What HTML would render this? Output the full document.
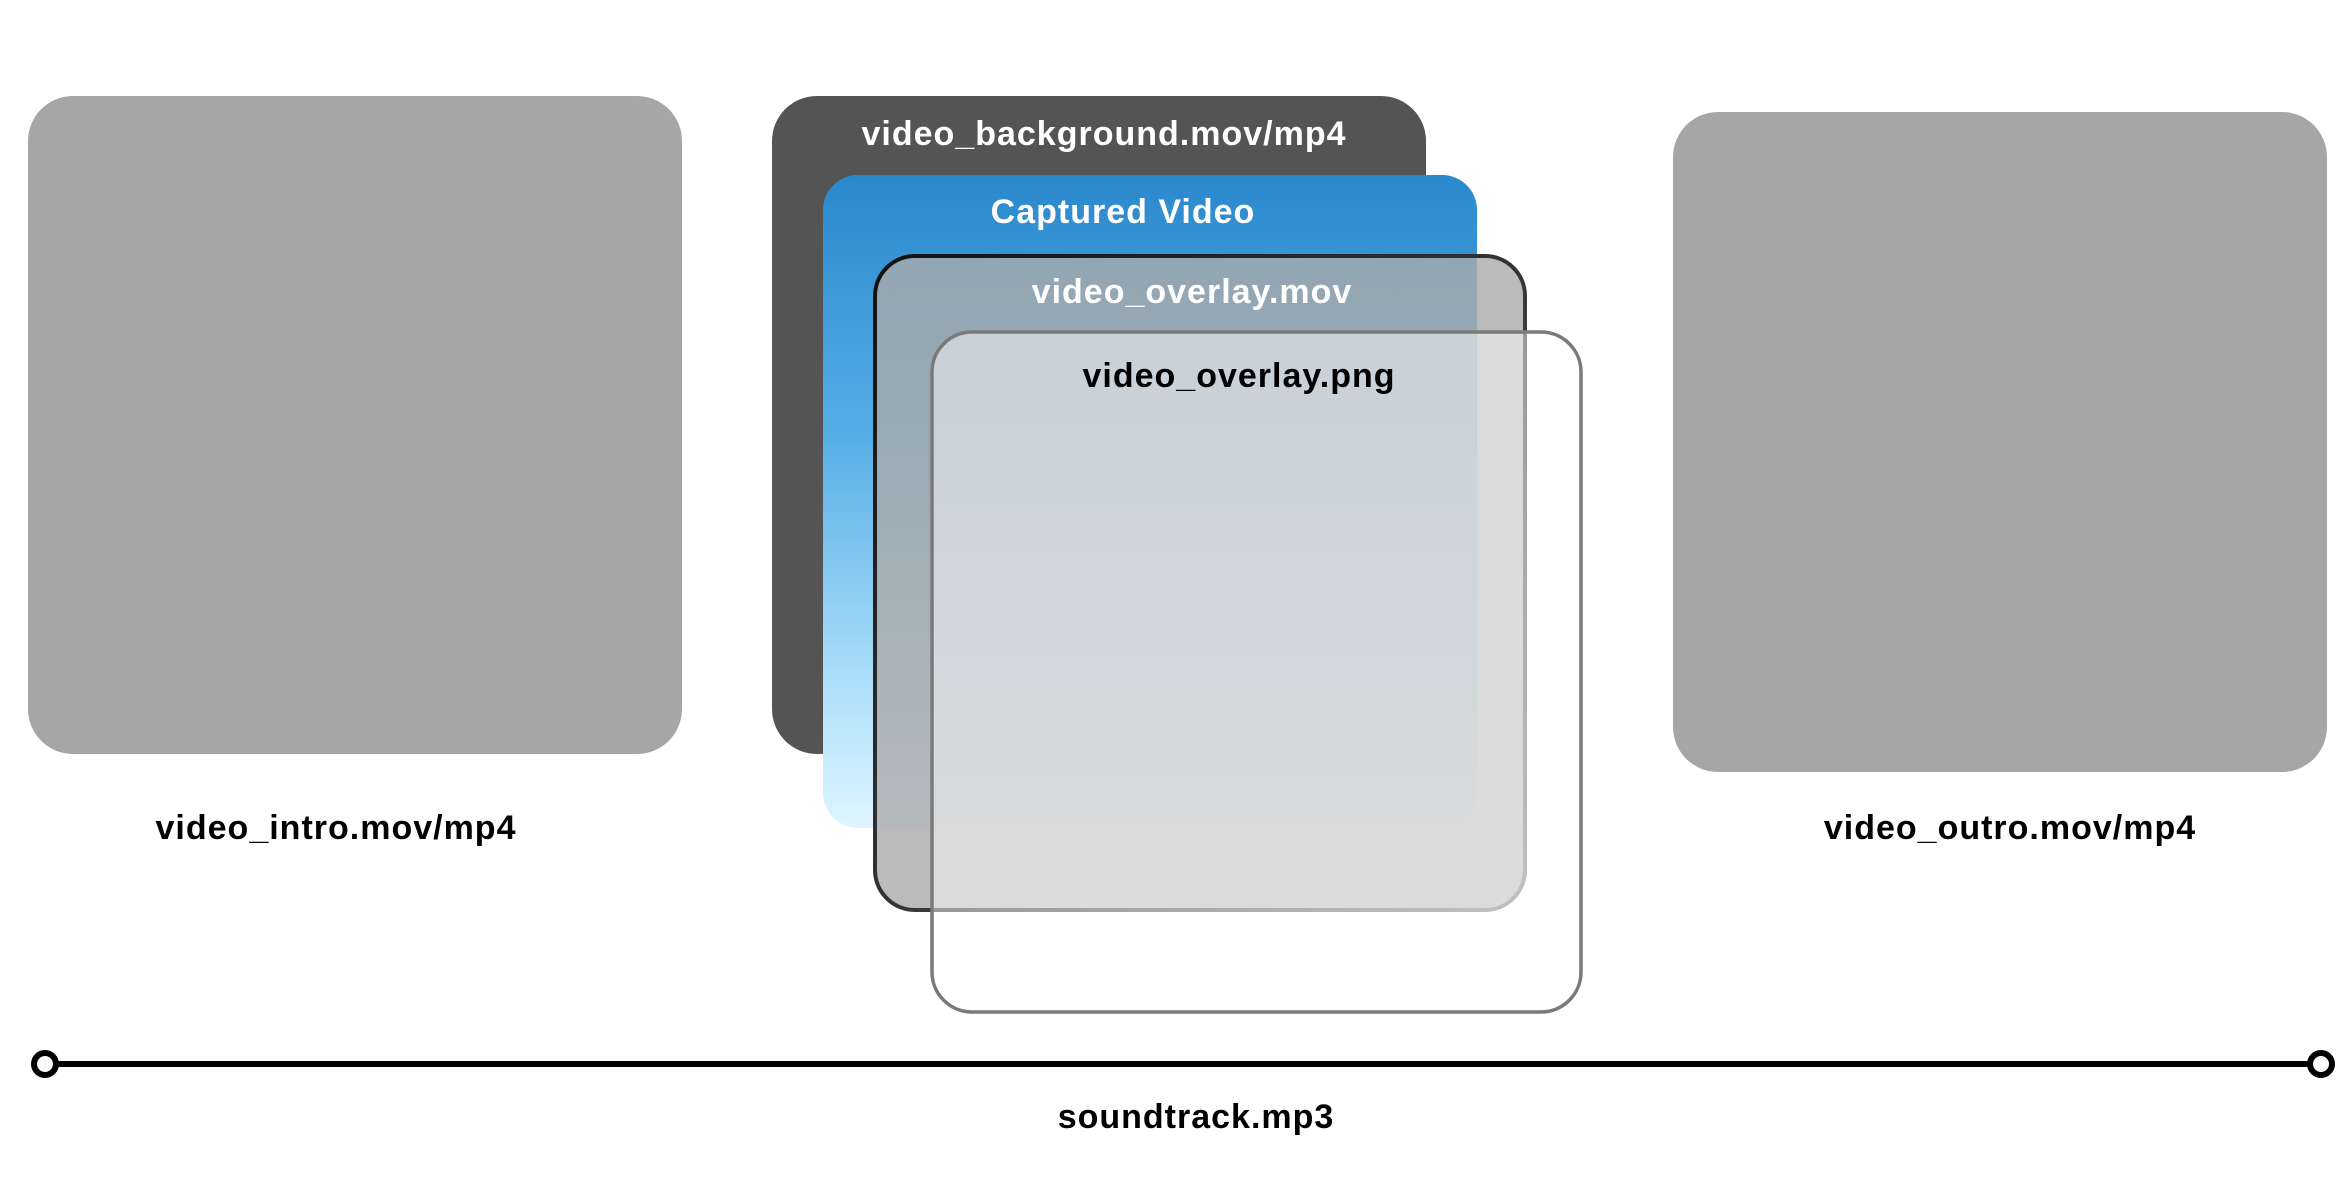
<!DOCTYPE html>
<html><head><meta charset="utf-8"><style>
html,body{margin:0;padding:0;background:#fff;}
svg{display:block;}
text{font-family:"Liberation Sans",sans-serif;font-weight:bold;}
</style></head><body>
<svg width="2350" height="1180" viewBox="0 0 2350 1180" xmlns="http://www.w3.org/2000/svg">
<defs>
<linearGradient id="blue" x1="0" y1="0" x2="0" y2="1">
<stop offset="0" stop-color="#2a88cc"/>
<stop offset="0.4" stop-color="#56aee6"/>
<stop offset="0.75" stop-color="#a6dbf8"/>
<stop offset="1" stop-color="#dff5ff"/>
</linearGradient>
<linearGradient id="ovb" x1="0" y1="0" x2="1" y2="1">
<stop offset="0" stop-color="#111"/>
<stop offset="0.5" stop-color="#333"/>
<stop offset="1" stop-color="#888"/>
</linearGradient>
</defs>
<rect x="28" y="96" width="654" height="658" rx="45" fill="#a6a6a6"/>
<rect x="1673" y="112" width="654" height="660" rx="45" fill="#a6a6a6"/>
<text x="336" y="839" font-size="34" letter-spacing="1" text-anchor="middle" fill="#000">video_intro.mov/mp4</text>
<text x="2010" y="839" font-size="34" letter-spacing="1" text-anchor="middle" fill="#000">video_outro.mov/mp4</text>

<rect x="772" y="96" width="654" height="658" rx="45" fill="#545454"/>
<text x="1104" y="145" font-size="34" letter-spacing="1" text-anchor="middle" fill="#fff">video_background.mov/mp4</text>
<rect x="823" y="175" width="654" height="653" rx="35" fill="url(#blue)"/>
<text x="1123" y="223" font-size="34" letter-spacing="1" text-anchor="middle" fill="#fff">Captured Video</text>
<rect x="875" y="256" width="650" height="654" rx="40" fill="rgba(170,170,170,0.8)" stroke="url(#ovb)" stroke-width="4"/>
<text x="1192" y="303" font-size="34" letter-spacing="1" text-anchor="middle" fill="#fff">video_overlay.mov</text>
<rect x="932" y="332" width="649" height="680" rx="40" fill="rgba(255,255,255,0.48)" stroke="#7a7a7a" stroke-width="3.5"/>
<text x="1239" y="387" font-size="34" letter-spacing="1" text-anchor="middle" fill="#000">video_overlay.png</text>

<line x1="56" y1="1064" x2="2309" y2="1064" stroke="#000" stroke-width="6"/>
<circle cx="45" cy="1064" r="11" fill="#fff" stroke="#000" stroke-width="6"/>
<circle cx="2321" cy="1064" r="11" fill="#fff" stroke="#000" stroke-width="6"/>
<text x="1196" y="1128" font-size="34" letter-spacing="1" text-anchor="middle" fill="#000">soundtrack.mp3</text>
</svg>
</body></html>
